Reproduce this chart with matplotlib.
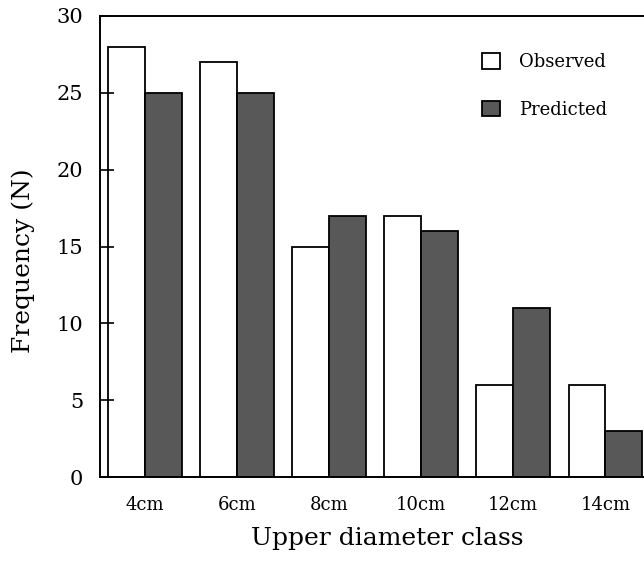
import matplotlib
matplotlib.use("Agg")
import matplotlib.pyplot as plt
import numpy as np

# 데이터
classes = ['4cm', '6cm', '8cm', '10cm', '12cm', '14cm']
observed = [28, 27, 15, 17, 6, 6]
predicted = [25, 25, 17, 16, 11, 3]

plt.rcParams['font.family'] = ['DejaVu Serif']

fig = plt.figure(figsize=(6.44, 5.61), dpi=100)
ax = fig.add_axes([0.1553, 0.1497, 0.8447, 0.8218])

x = np.arange(len(classes))
w = 0.4
ax.bar(x - w/2, observed, w, color='white', edgecolor='black', linewidth=1.3, label='Observed')
ax.bar(x + w/2, predicted, w, color='#585858', edgecolor='black', linewidth=1.3, label='Predicted')

ax.set_xlim(-0.49, 5.42)
ax.set_ylim(0, 30)
ax.set_yticks(range(0, 31, 5))
ax.set_xticks(x)
ax.set_xticklabels(classes)
ax.tick_params(axis='y', direction='in', length=10, width=1.2, labelsize=15, pad=12)
ax.tick_params(axis='x', length=0, labelsize=13, pad=14)
ax.spines['right'].set_visible(False)
for s in ['left', 'top', 'bottom']:
    ax.spines[s].set_linewidth(1.4)

ax.set_ylabel('Frequency (N)', fontsize=18)
ax.set_xlabel('Upper diameter class', fontsize=18)
ax.yaxis.set_label_coords(-0.119, 0.47)
ax.xaxis.set_label_coords(0.528, -0.108)

ax.legend(loc='upper left', bbox_to_anchor=(0.673, 0.955), frameon=False, fontsize=13,
          handlelength=0.95, handleheight=0.95, labelspacing=1.65, handletextpad=1.1)

plt.savefig('out.png', dpi=100)
